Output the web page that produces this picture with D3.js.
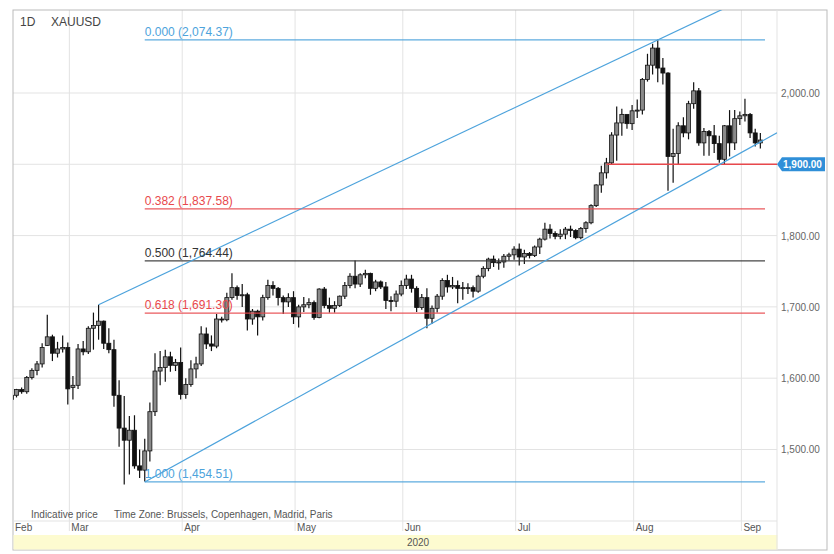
<!DOCTYPE html>
<html>
<head>
<meta charset="utf-8">
<script src="https://cdn.jsdelivr.net/npm/d3@7"></script>
<style>
  body { margin: 0; background: #fff; }
  text { font-family: Arial, "Liberation Sans", sans-serif; }
</style>
</head>
<body>
<svg id="chart" width="834" height="554"></svg>
<script>
// daily candles [open, high, low, close], one array per month
const feb = [[1570,1578,1568,1576],[1576,1585,1573,1584],[1584,1587,1578,1581],[1581,1603,1578,1601],[1601,1614,1598,1611],[1611,1624,1604,1620],[1620,1649,1615,1643],[1646,1689,1645,1658],[1658,1661,1624,1635],[1635,1651,1629,1641],[1641,1660,1636,1643],[1643,1650,1563,1585]];
const mar = [[1587,1603,1570,1590],[1590,1648,1585,1641],[1641,1652,1632,1637],[1637,1673,1634,1670],[1670,1692,1640,1674],[1674,1703,1654,1680],[1680,1681,1641,1649],[1649,1670,1635,1640],[1640,1654,1560,1576],[1576,1597,1504,1530],[1530,1575,1451,1513],[1513,1547,1465,1527],[1527,1548,1473,1477],[1477,1500,1460,1471],[1471,1515,1455,1498],[1498,1566,1483,1553],[1553,1635,1547,1610],[1610,1638,1590,1615],[1615,1640,1595,1630],[1630,1637,1609,1618],[1618,1627,1610,1622],[1622,1643,1570,1577]];
const apr = [[1577,1600,1571,1591],[1591,1625,1588,1613],[1613,1630,1600,1620],[1620,1673,1617,1662],[1662,1671,1641,1648],[1648,1660,1638,1645],[1645,1690,1642,1683],[1683,1686,1678,1682],[1682,1720,1680,1713],[1713,1747,1710,1727],[1727,1730,1710,1716],[1716,1732,1700,1717],[1717,1720,1667,1683],[1683,1697,1675,1694],[1694,1696,1660,1686],[1686,1717,1681,1713],[1713,1738,1710,1730],[1730,1736,1716,1726],[1726,1728,1702,1713],[1713,1716,1690,1707],[1707,1719,1700,1713],[1713,1722,1676,1686]];
const may = [[1686,1703,1671,1700],[1700,1714,1693,1703],[1703,1712,1698,1706],[1706,1709,1682,1685],[1685,1726,1684,1725],[1725,1728,1698,1702],[1702,1713,1692,1698],[1698,1708,1692,1702],[1702,1716,1700,1715],[1715,1735,1711,1730],[1730,1747,1726,1743],[1743,1765,1726,1732],[1732,1747,1728,1745],[1745,1752,1740,1747],[1747,1748,1717,1726],[1726,1738,1722,1735],[1735,1737,1725,1728],[1728,1735,1697,1709],[1709,1715,1694,1708],[1708,1723,1700,1718],[1718,1737,1715,1730]];
const jun = [[1730,1745,1725,1739],[1739,1745,1720,1726],[1726,1729,1693,1699],[1699,1718,1696,1713],[1713,1726,1670,1684],[1684,1702,1676,1698],[1698,1718,1692,1715],[1715,1740,1710,1737],[1737,1745,1720,1728],[1728,1742,1725,1730],[1730,1737,1705,1726],[1726,1735,1710,1727],[1727,1733,1718,1727],[1727,1730,1713,1722],[1722,1745,1720,1743],[1743,1757,1740,1754],[1754,1769,1750,1767],[1767,1772,1756,1762],[1762,1768,1752,1763],[1763,1774,1755,1771],[1771,1776,1765,1773],[1773,1785,1766,1781]];
const jul = [[1781,1789,1758,1770],[1770,1780,1760,1775],[1775,1777,1768,1772],[1772,1786,1770,1784],[1784,1797,1774,1795],[1795,1818,1793,1809],[1809,1816,1796,1803],[1803,1806,1795,1799],[1799,1809,1795,1802],[1802,1812,1795,1809],[1809,1814,1798,1807],[1807,1809,1795,1797],[1797,1812,1795,1810],[1810,1820,1804,1818],[1818,1844,1816,1842],[1842,1872,1840,1871],[1871,1898,1860,1888],[1888,1909,1880,1902],[1902,1945,1900,1941],[1941,1981,1905,1958],[1958,1978,1940,1970],[1970,1970,1950,1957],[1957,1983,1948,1975]];
const aug = [[1975,1991,1965,1976],[1976,2021,1970,2019],[2019,2055,2016,2039],[2039,2069,2026,2063],[2063,2075,2015,2035],[2035,2049,2012,2028],[2028,2029,1863,1911],[1911,1950,1874,1915],[1915,1959,1900,1954],[1954,1966,1938,1944],[1944,1989,1935,1985],[1985,2015,1978,2003],[2003,2007,1926,1930],[1930,1951,1912,1946],[1946,1948,1912,1940],[1940,1955,1916,1929],[1929,1940,1902,1907],[1907,1955,1900,1954],[1954,1976,1911,1930],[1930,1976,1920,1964],[1964,1974,1955,1968]];
const sep = [[1968,1992,1960,1970],[1970,1972,1937,1944],[1944,1950,1925,1930],[1930,1944,1922,1934]];

const fibLevels = [0, 0.382, 0.5, 0.618, 1];
const fibPrices = [2074.37, 1837.58, 1764.44, 1691.30, 1454.51];
const fibColors = ['#4da3dc', '#e8484c', '#333333', '#e8484c', '#4da3dc'];
const fibStart = '2020-03-20';
const supportPrice = 1900;
const supportStart = '2020-07-24';
// channel lines as [date, price] anchor pairs
const upperChannel = [['2020-03-09', 1703], ['2020-08-07', 2074.37]];
const lowerChannel = [['2020-03-20', 1454.51], ['2020-06-05', 1673]];
const priceTicks = [1500, 1600, 1700, 1800, 1900, 2000];
const monthLabels = ['Feb', 'Mar', 'Apr', 'May', 'Jun', 'Jul', 'Aug', 'Sep'];

const parse = d3.timeParse('%Y-%m-%d');
const fmtDay = d3.timeFormat('%Y-%m-%d');
const days = d3.timeDay.range(parse('2020-02-13'), parse('2020-09-05'))
  .filter(d => d.getDay() !== 0 && d.getDay() !== 6);
const ohlc = [].concat(feb, mar, apr, may, jun, jul, aug, sep);
const data = days.map((d, i) => ({ key: fmtDay(d), date: d, o: ohlc[i][0], h: ohlc[i][1], l: ohlc[i][2], c: ohlc[i][3] }));

const svg = d3.select('#chart');
const pL = 13, pR = 777, pT = 10, pB = 517;

const x = d3.scaleBand().domain(data.map(d => d.key)).range([8.8, 8.8 + 5.13 * data.length]);
const cx = k => x(k) + x.bandwidth() / 2;
const y = d3.scaleLinear().domain([1405.3, 2116.4]).range([pB, pT]);

svg.append('clipPath').attr('id', 'plot')
  .append('rect').attr('x', pL).attr('y', pT).attr('width', pR - pL).attr('height', pB - pT);

// grid
const grid = svg.append('g').attr('stroke', '#e3e3e3').attr('stroke-width', 1);
grid.selectAll('.h').data(priceTicks).join('line')
  .attr('x1', pL).attr('x2', pR).attr('y1', d => y(d)).attr('y2', d => y(d));
const monthStarts = monthLabels.map((m, i) => data.find(d => d.date.getMonth() === i + 1));
grid.selectAll('.v').data(monthStarts.slice(1)).join('line')
  .attr('x1', d => x(d.key) - 1).attr('x2', d => x(d.key) - 1).attr('y1', pT).attr('y2', pB + 14);

// frame
svg.append('rect').attr('x', pL).attr('y', pT).attr('width', 827 - pL).attr('height', 550 - pT)
  .attr('fill', 'none').attr('stroke', '#bbb');
svg.append('line').attr('x1', pL).attr('x2', pR).attr('y1', pB + 4).attr('y2', pB + 4).attr('stroke', '#e3e3e3');
svg.append('rect').attr('x', pL + 0.5).attr('y', 535).attr('width', pR - pL).attr('height', 14.5).attr('fill', '#fdfbd0');
svg.append('text').attr('x', 418).attr('y', 546).attr('text-anchor', 'middle').attr('font-size', 10).attr('fill', '#555').text('2020');
svg.append('line').attr('x1', pR).attr('x2', pR).attr('y1', pT).attr('y2', 550).attr('stroke', '#e3e3e3');

// month labels
svg.selectAll('.ml').data(monthStarts).join('text')
  .attr('x', (d, i) => i === 0 ? 15 : x(d.key) + 1).attr('y', 531)
  .attr('font-size', 10).attr('fill', '#555').text((d, i) => monthLabels[i]);

// price labels
svg.selectAll('.pl').data(priceTicks.filter(p => p !== supportPrice)).join('text')
  .attr('x', 781).attr('y', d => y(d) + 4).attr('font-size', 10).attr('fill', '#666')
  .text(d => d3.format(',.2f')(d));

const plot = svg.append('g').attr('clip-path', 'url(#plot)');

// candles
const candle = plot.selectAll('.c').data(data).join('g');
candle.append('line').attr('x1', d => cx(d.key)).attr('x2', d => cx(d.key))
  .attr('y1', d => y(d.h)).attr('y2', d => y(d.l)).attr('stroke', '#111').attr('stroke-width', 1.2);
candle.append('rect')
  .attr('x', d => cx(d.key) - 2).attr('width', 4)
  .attr('y', d => y(Math.max(d.o, d.c)))
  .attr('height', d => Math.max(1, Math.abs(y(d.o) - y(d.c))))
  .attr('fill', d => d.c >= d.o ? '#8a8a8a' : '#111').attr('stroke', '#111').attr('stroke-width', 0.8);

// fibonacci levels
const fx0 = cx(fibStart), fx1 = 765;
fibPrices.forEach((p, i) => {
  plot.append('line').attr('x1', fx0).attr('x2', fx1).attr('y1', y(p)).attr('y2', y(p))
    .attr('stroke', fibColors[i]).attr('stroke-width', 1.2).attr('opacity', 0.9);
  svg.append('text').attr('x', fx0).attr('y', y(p) - 4).attr('font-size', 12)
    .attr('fill', fibColors[i]).text(`${fibLevels[i].toFixed(3)} (${d3.format(',.2f')(p)})`);
});

// 1,900 support
plot.append('line').attr('x1', cx(supportStart)).attr('x2', pR).attr('y1', y(supportPrice)).attr('y2', y(supportPrice))
  .attr('stroke', '#e8484c').attr('stroke-width', 1.5);
svg.append('path').attr('d', `M777,${y(supportPrice)} l5,-7 h43 v14 h-43 z`).attr('fill', '#2f8fd8');
svg.append('text').attr('x', 783).attr('y', y(supportPrice) + 4).attr('font-size', 10).attr('font-weight', 'bold')
  .attr('fill', '#fff').text(d3.format(',.2f')(supportPrice));

// channel lines, extended to the right edge
[upperChannel, lowerChannel].forEach(pts => {
  const x0 = cx(pts[0][0]), y0 = y(pts[0][1]);
  const slope = (y(pts[1][1]) - y0) / (cx(pts[1][0]) - x0);
  plot.append('line').attr('x1', x0).attr('y1', y0).attr('x2', pR).attr('y2', y0 + slope * (pR - x0))
    .attr('stroke', '#4da3dc').attr('stroke-width', 1.2);
});

// captions
svg.append('text').attr('x', 20).attr('y', 26).attr('font-size', 12).attr('fill', '#444').text('1D');
svg.append('text').attr('x', 51).attr('y', 26).attr('font-size', 12).attr('fill', '#444').text('XAUUSD');
svg.append('text').attr('x', 31).attr('y', 518).attr('font-size', 10).attr('fill', '#555').text('Indicative price');
svg.append('text').attr('x', 114).attr('y', 518).attr('font-size', 10).attr('fill', '#555').text('Time Zone: Brussels, Copenhagen, Madrid, Paris');
</script>
</body>
</html>
